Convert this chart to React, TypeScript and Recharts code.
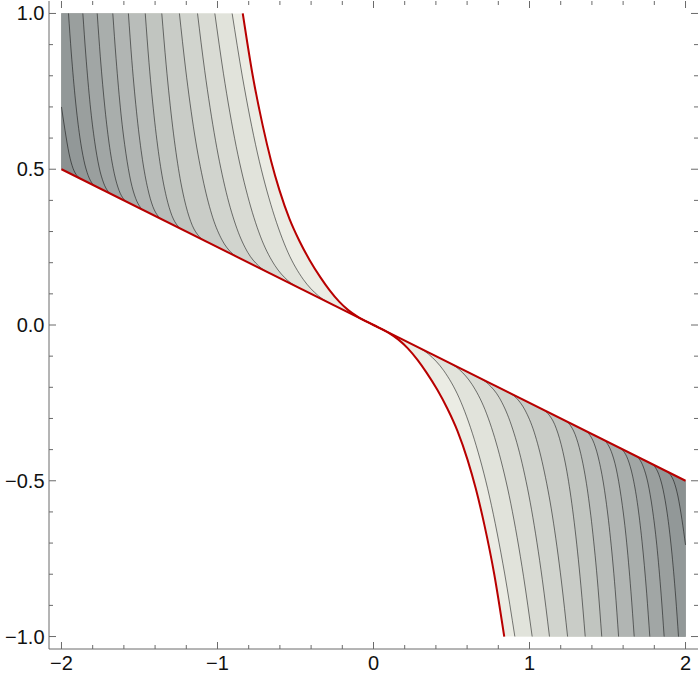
import React from "react";
import { ComposedChart, Area, Line, XAxis, YAxis } from "recharts";

type Pt = [number, number];

// straight red boundary and the red curved boundary
const redLine: Pt[] = [[-2, 0.5], [2, -0.5]];
const redCurve: Pt[] = [
  [-0.838, 1], [-0.774, 0.8], [-0.71, 0.64], [-0.656, 0.526], [-0.603, 0.433],
  [-0.538, 0.34], [-0.474, 0.269], [-0.41, 0.209], [-0.34, 0.153], [-0.282, 0.112],
  [-0.22, 0.075], [-0.16, 0.047], [-0.1, 0.026], [0, 0], [0.1, -0.026],
  [0.16, -0.047], [0.22, -0.075], [0.282, -0.112], [0.34, -0.153], [0.41, -0.209],
  [0.474, -0.269], [0.538, -0.34], [0.603, -0.433], [0.656, -0.526], [0.71, -0.64],
  [0.774, -0.8], [0.838, -1],
];

// contour lines, left lobe (from the top edge down to the red line)
const leftC11: Pt[] = [[-0.906, 1], [-0.841, 0.799], [-0.744, 0.552], [-0.646, 0.367], [-0.549, 0.234], [-0.451, 0.147], [-0.354, 0.094], [-0.256, 0.064]];
const leftC10: Pt[] = [[-1.017, 1], [-0.962, 0.808], [-0.88, 0.573], [-0.797, 0.397], [-0.715, 0.272], [-0.632, 0.191], [-0.55, 0.143], [-0.467, 0.117]];
const leftC9: Pt[] = [[-1.128, 1], [-1.082, 0.817], [-1.013, 0.593], [-0.944, 0.426], [-0.875, 0.309], [-0.806, 0.233], [-0.737, 0.19], [-0.668, 0.167]];
const leftC8: Pt[] = [[-1.244, 1], [-1.205, 0.825], [-1.147, 0.613], [-1.088, 0.455], [-1.03, 0.344], [-0.971, 0.273], [-0.913, 0.233], [-0.854, 0.214]];
const leftC7: Pt[] = [[-1.357, 1], [-1.329, 0.835], [-1.287, 0.635], [-1.245, 0.486], [-1.203, 0.384], [-1.161, 0.319], [-1.119, 0.285], [-1.077, 0.269]];
const leftC6: Pt[] = [[-1.463, 1], [-1.439, 0.842], [-1.402, 0.651], [-1.365, 0.509], [-1.328, 0.412], [-1.292, 0.351], [-1.255, 0.318], [-1.218, 0.305]];
const leftC5: Pt[] = [[-1.571, 1], [-1.549, 0.849], [-1.515, 0.666], [-1.481, 0.531], [-1.447, 0.438], [-1.414, 0.38], [-1.38, 0.349], [-1.346, 0.337]];
const leftC4: Pt[] = [[-1.671, 1], [-1.65, 0.855], [-1.619, 0.68], [-1.587, 0.551], [-1.556, 0.462], [-1.524, 0.406], [-1.493, 0.377], [-1.461, 0.365]];
const leftC3: Pt[] = [[-1.771, 1], [-1.751, 0.861], [-1.721, 0.694], [-1.691, 0.57], [-1.661, 0.485], [-1.631, 0.432], [-1.601, 0.404], [-1.571, 0.393]];
const leftC2: Pt[] = [[-1.863, 1], [-1.844, 0.867], [-1.816, 0.707], [-1.787, 0.588], [-1.759, 0.507], [-1.73, 0.456], [-1.702, 0.429], [-1.673, 0.418]];
const leftC1: Pt[] = [[-1.955, 1], [-1.937, 0.873], [-1.91, 0.719], [-1.883, 0.606], [-1.856, 0.528], [-1.829, 0.48], [-1.802, 0.454], [-1.775, 0.444]];
const leftC0: Pt[] = [[-2, 0.7], [-1.977, 0.624], [-1.951, 0.549], [-1.926, 0.503], [-1.9, 0.479], [-1.875, 0.469]];

// contour lines, right lobe (from the red line down to the bottom edge)
const rightC11: Pt[] = [[0.256, -0.064], [0.354, -0.094], [0.451, -0.147], [0.549, -0.234], [0.646, -0.367], [0.744, -0.552], [0.841, -0.799], [0.906, -1]];
const rightC10: Pt[] = [[0.467, -0.117], [0.55, -0.143], [0.632, -0.191], [0.715, -0.272], [0.797, -0.397], [0.88, -0.573], [0.962, -0.808], [1.017, -1]];
const rightC9: Pt[] = [[0.668, -0.167], [0.737, -0.19], [0.806, -0.233], [0.875, -0.309], [0.944, -0.426], [1.013, -0.593], [1.082, -0.817], [1.128, -1]];
const rightC8: Pt[] = [[0.854, -0.214], [0.913, -0.233], [0.971, -0.273], [1.03, -0.344], [1.088, -0.455], [1.147, -0.613], [1.205, -0.825], [1.244, -1]];
const rightC7: Pt[] = [[1.077, -0.269], [1.119, -0.285], [1.161, -0.319], [1.203, -0.384], [1.245, -0.486], [1.287, -0.635], [1.329, -0.835], [1.357, -1]];
const rightC6: Pt[] = [[1.218, -0.305], [1.255, -0.318], [1.292, -0.351], [1.328, -0.412], [1.365, -0.509], [1.402, -0.651], [1.439, -0.842], [1.463, -1]];
const rightC5: Pt[] = [[1.346, -0.337], [1.38, -0.349], [1.414, -0.38], [1.447, -0.438], [1.481, -0.531], [1.515, -0.666], [1.549, -0.849], [1.571, -1]];
const rightC4: Pt[] = [[1.461, -0.365], [1.493, -0.377], [1.524, -0.406], [1.556, -0.462], [1.587, -0.551], [1.619, -0.68], [1.65, -0.855], [1.671, -1]];
const rightC3: Pt[] = [[1.571, -0.393], [1.601, -0.404], [1.631, -0.432], [1.661, -0.485], [1.691, -0.57], [1.721, -0.694], [1.751, -0.861], [1.771, -1]];
const rightC2: Pt[] = [[1.673, -0.418], [1.702, -0.429], [1.73, -0.456], [1.759, -0.507], [1.787, -0.588], [1.816, -0.707], [1.844, -0.867], [1.863, -1]];
const rightC1: Pt[] = [[1.775, -0.444], [1.802, -0.454], [1.829, -0.48], [1.856, -0.528], [1.883, -0.606], [1.91, -0.719], [1.937, -0.873], [1.955, -1]];
const rightC0: Pt[] = [[1.875, -0.469], [1.9, -0.479], [1.926, -0.503], [1.951, -0.549], [1.977, -0.624], [2, -0.706]];

// ticks
const xMajorTicks = [-2, -1, 0, 1, 2];
const xMajorLabels = ["−2", "−1", "0", "1", "2"];
const xMinorTicks = [-1.8, -1.6, -1.4, -1.2, -0.8, -0.6, -0.4, -0.2, 0.2, 0.4, 0.6, 0.8, 1.2, 1.4, 1.6, 1.8];
const yMajorTicks = [-1, -0.5, 0, 0.5, 1];
const yMajorLabels = ["−1.0", "−0.5", "0.0", "0.5", "1.0"];
const yMinorTicks = [-0.9, -0.8, -0.7, -0.6, -0.4, -0.3, -0.2, -0.1, 0.1, 0.2, 0.3, 0.4, 0.6, 0.7, 0.8, 0.9];

const xRange = [-2, 2];
const yRange = [-1, 1];

// band fills, lightest (next to the red curve) to darkest (far edge)
const shades = [
  "#EBECE4", "#E1E3DB", "#D9DBD4", "#D1D4CE", "#C9CCC7", "#C1C5C0", "#B9BDBA",
  "#B1B5B3", "#A9AEAC", "#A1A6A5", "#9A9F9E", "#929898", "#8B9191",
];

const leftContours = [leftC11, leftC10, leftC9, leftC8, leftC7, leftC6, leftC5, leftC4, leftC3, leftC2, leftC1, leftC0];
const rightContours = [rightC11, rightC10, rightC9, rightC8, rightC7, rightC6, rightC5, rightC4, rightC3, rightC2, rightC1, rightC0];

const W = 700;
const H = 678;
const MARGIN = { top: 1, right: 2, bottom: 0, left: 0 };
const Y_AXIS_W = 49;
const X_AXIS_H = 29;
const FRAME_L = MARGIN.left + Y_AXIS_W;
const FRAME_R = W - MARGIN.right;
const FRAME_T = MARGIN.top;
const FRAME_B = H - MARGIN.bottom - X_AXIS_H;

const FRAME = "#6a6a6a";
const RED = "#B80000";
const FONT = "'Liberation Sans', Arial, sans-serif";
const FONT_SIZE = 20;

// value of the straight red line at x (read between its two end points)
const lineAt = (x: number) =>
  redLine[0][1] + ((x - redLine[0][0]) * (redLine[1][1] - redLine[0][1])) / (redLine[1][0] - redLine[0][0]);

// region between the red line and a curve of the left lobe, out to the left edge
const leftRows = (pts: Pt[]) => {
  const rows = pts.map(([x, y]) => ({ x, r: [lineAt(x), y] }));
  if (pts[0][0] > xRange[0]) rows.unshift({ x: xRange[0], r: [lineAt(xRange[0]), yRange[1]] });
  return rows;
};
// region between a curve of the right lobe and the red line, out to the right edge
const rightRows = (pts: Pt[]) => {
  const rows = pts.map(([x, y]) => ({ x, r: [y, lineAt(x)] }));
  if (pts[pts.length - 1][0] < xRange[1]) rows.push({ x: xRange[1], r: [yRange[0], lineAt(xRange[1])] });
  return rows;
};
const toXY = (pts: Pt[]) => pts.map(([x, y]) => ({ x, y }));

const near = (a: number, b: number) => Math.abs(a - b) < 1e-6;

// x ticks: inward marks on bottom and top of the frame, labels under the bottom
const XTick = (props: any) => {
  const { x, payload } = props;
  const i = xMajorTicks.findIndex((m) => near(m, payload.value));
  const len = i >= 0 ? 7 : 4;
  return (
    <g>
      <line x1={x} y1={FRAME_B} x2={x} y2={FRAME_B - len} stroke={FRAME} />
      <line x1={x} y1={FRAME_T} x2={x} y2={FRAME_T + len} stroke={FRAME} />
      {i >= 0 && (
        <text x={x} y={FRAME_B + 21} textAnchor="middle" fontFamily={FONT} fontSize={FONT_SIZE} fill="#111">
          {xMajorLabels[i]}
        </text>
      )}
    </g>
  );
};

// y ticks: inward marks on left and right of the frame, labels left
const YTick = (props: any) => {
  const { y, payload } = props;
  const i = yMajorTicks.findIndex((m) => near(m, payload.value));
  const len = i >= 0 ? 7 : 4;
  return (
    <g>
      <line x1={FRAME_L} y1={y} x2={FRAME_L + len} y2={y} stroke={FRAME} />
      <line x1={FRAME_R} y1={y} x2={FRAME_R - len} y2={y} stroke={FRAME} />
      {i >= 0 && (
        <text x={FRAME_L - 4.5} y={y + 7} textAnchor="end" fontFamily={FONT} fontSize={FONT_SIZE} fill="#111">
          {yMajorLabels[i]}
        </text>
      )}
    </g>
  );
};

const xTicks = [...xMajorTicks, ...xMinorTicks].sort((a, b) => a - b);
const yTicks = [...yMajorTicks, ...yMinorTicks].sort((a, b) => a - b);
const xDomain = [-2.08, 2.08];
const yDomain = [-1.04, 1.04];

export default function App() {
  const redLeft = redCurve.filter(([x]) => x <= 0);
  const redRight = redCurve.filter(([x]) => x >= 0);

  return (
    <div style={{ position: "absolute", left: 0, top: 0 }}>
      <ComposedChart width={W} height={H} margin={MARGIN}>
        <XAxis
          xAxisId={0}
          dataKey="x"
          type="number"
          domain={xDomain}
          allowDataOverflow
          ticks={xTicks}
          interval={0}
          tickLine={false}
          tick={XTick}
          height={X_AXIS_H}
          axisLine={{ stroke: FRAME }}
        />
        <XAxis
          xAxisId="top"
          orientation="top"
          dataKey="x"
          type="number"
          domain={xDomain}
          allowDataOverflow
          tick={false}
          tickLine={false}
          height={0}
          axisLine={{ stroke: FRAME }}
        />
        <YAxis
          yAxisId={0}
          type="number"
          domain={yDomain}
          allowDataOverflow
          ticks={yTicks}
          interval={0}
          tickLine={false}
          tick={YTick}
          width={Y_AXIS_W}
          axisLine={{ stroke: FRAME }}
        />
        <YAxis
          yAxisId="right"
          orientation="right"
          type="number"
          domain={yDomain}
          allowDataOverflow
          tick={false}
          tickLine={false}
          width={0}
          axisLine={{ stroke: FRAME }}
        />

        {/* nested filled bands, lightest first */}
        <Area xAxisId={0} yAxisId={0} data={leftRows(redLeft)} dataKey="r" type="linear" stroke="none" fill={shades[0]} fillOpacity={1} isAnimationActive={false} dot={false} activeDot={false} />
        <Area xAxisId={0} yAxisId={0} data={rightRows(redRight)} dataKey="r" type="linear" stroke="none" fill={shades[0]} fillOpacity={1} isAnimationActive={false} dot={false} activeDot={false} />
        {leftContours.map((c, i) => (
          <Area key={"la" + i} xAxisId={0} yAxisId={0} data={leftRows(c)} dataKey="r" type="linear" stroke="none" fill={shades[i + 1]} fillOpacity={1} isAnimationActive={false} dot={false} activeDot={false} />
        ))}
        {rightContours.map((c, i) => (
          <Area key={"ra" + i} xAxisId={0} yAxisId={0} data={rightRows(c)} dataKey="r" type="linear" stroke="none" fill={shades[i + 1]} fillOpacity={1} isAnimationActive={false} dot={false} activeDot={false} />
        ))}

        {/* contour lines */}
        {[...leftContours, ...rightContours].map((c, i) => (
          <Line key={"cl" + i} xAxisId={0} yAxisId={0} data={toXY(c)} dataKey="y" type="monotone" stroke="#000" strokeOpacity={0.5} strokeWidth={1} dot={false} activeDot={false} isAnimationActive={false} />
        ))}

        {/* red boundaries */}
        <Line xAxisId={0} yAxisId={0} data={toXY(redLine)} dataKey="y" type="linear" stroke={RED} strokeWidth={2} dot={false} activeDot={false} isAnimationActive={false} />
        <Line xAxisId={0} yAxisId={0} data={toXY(redCurve)} dataKey="y" type="monotone" stroke={RED} strokeWidth={2} dot={false} activeDot={false} isAnimationActive={false} />
      </ComposedChart>
    </div>
  );
}
